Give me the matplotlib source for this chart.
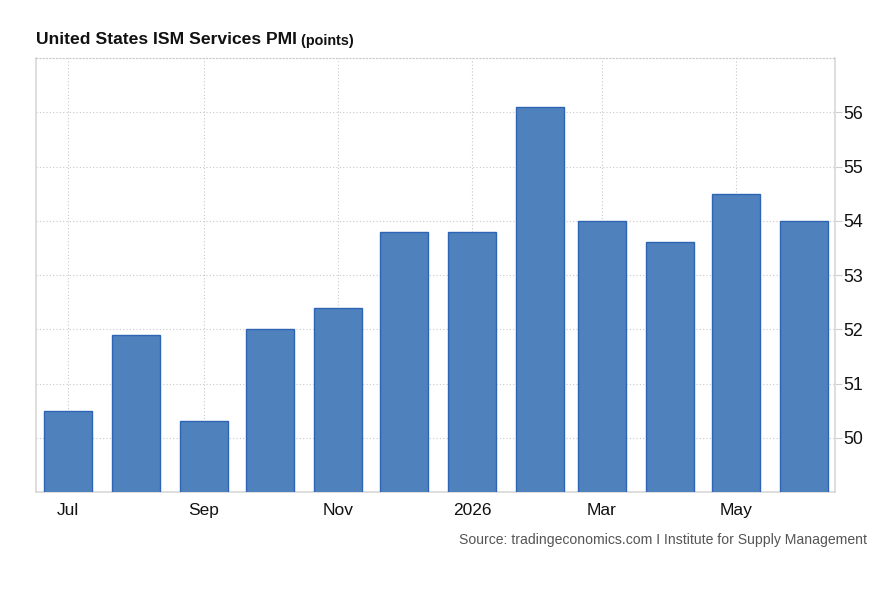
import matplotlib
matplotlib.use("Agg")
import matplotlib.pyplot as plt
import matplotlib.dates as mdates
import datetime as dt

plt.rcParams['font.family'] = ['Liberation Sans', 'DejaVu Sans']

months = ["2025-07", "2025-08", "2025-09", "2025-10", "2025-11", "2025-12",
          "2026-01", "2026-02", "2026-03", "2026-04", "2026-05", "2026-06"]
values = [50.5, 51.9, 50.3, 52.0, 52.4, 53.8, 53.8, 56.1, 54.0, 53.6, 54.5, 54.0]
yticks = [50, 51, 52, 53, 54, 55, 56]

dates = [dt.datetime.strptime(m, "%Y-%m") for m in months]

fig = plt.figure(figsize=(8.82, 6.03), dpi=100)
ax = fig.add_axes([36/882, 1-492/603, (835-36)/882, (492-58)/603])

ax.bar(dates, values, width=22, color="#4f81bd", edgecolor="#2e64b4", linewidth=1.0, zorder=3)

ax.set_xlim(dates[0] - dt.timedelta(days=14.5), dates[-1] + dt.timedelta(days=14.2))
ax.set_ylim(49, 57)

ax.xaxis.set_major_locator(mdates.MonthLocator(bymonth=[1, 3, 5, 7, 9, 11]))
def fmt(x, pos=None):
    d = mdates.num2date(x)
    return str(d.year) if d.month == 1 else d.strftime("%b")
ax.xaxis.set_major_formatter(plt.FuncFormatter(fmt))

ax.set_yticks(yticks)
ax.yaxis.tick_right()
ax.tick_params(axis='y', which='both', length=5, color="#d0d0d0", labelsize=12.8, pad=1, labelcolor="#111111")
ax.tick_params(axis='x', length=0, labelsize=12.5, pad=8, labelcolor="#111111")

ax.grid(True, which='major', color="#c8c8c8", linestyle=(0, (1, 2)), linewidth=0.8, zorder=0)

for side in ['left', 'bottom', 'right']:
    ax.spines[side].set_color("#d8d8d8")
    ax.spines[side].set_linewidth(1.2)
ax.spines['top'].set_color("#c8c8c8")
ax.spines['top'].set_linestyle((0, (1, 2)))
ax.spines['top'].set_linewidth(0.8)

t1 = fig.text(36/882, 1-44.5/603, "United States ISM Services PMI", fontsize=12.6, fontweight='bold',
              color="#111111", ha='left', va='baseline')
fig.canvas.draw()
ax.annotate(" (points)", xy=(1, 0), xycoords=t1, fontsize=10.4, fontweight='bold',
            color="#111111", ha='left', va='bottom')

fig.text(867/882, 1-544/603, "Source: tradingeconomics.com I Institute for Supply Management",
         fontsize=10.1, color="#555555", ha='right', va='baseline')

fig.savefig("out.png", dpi=100)
